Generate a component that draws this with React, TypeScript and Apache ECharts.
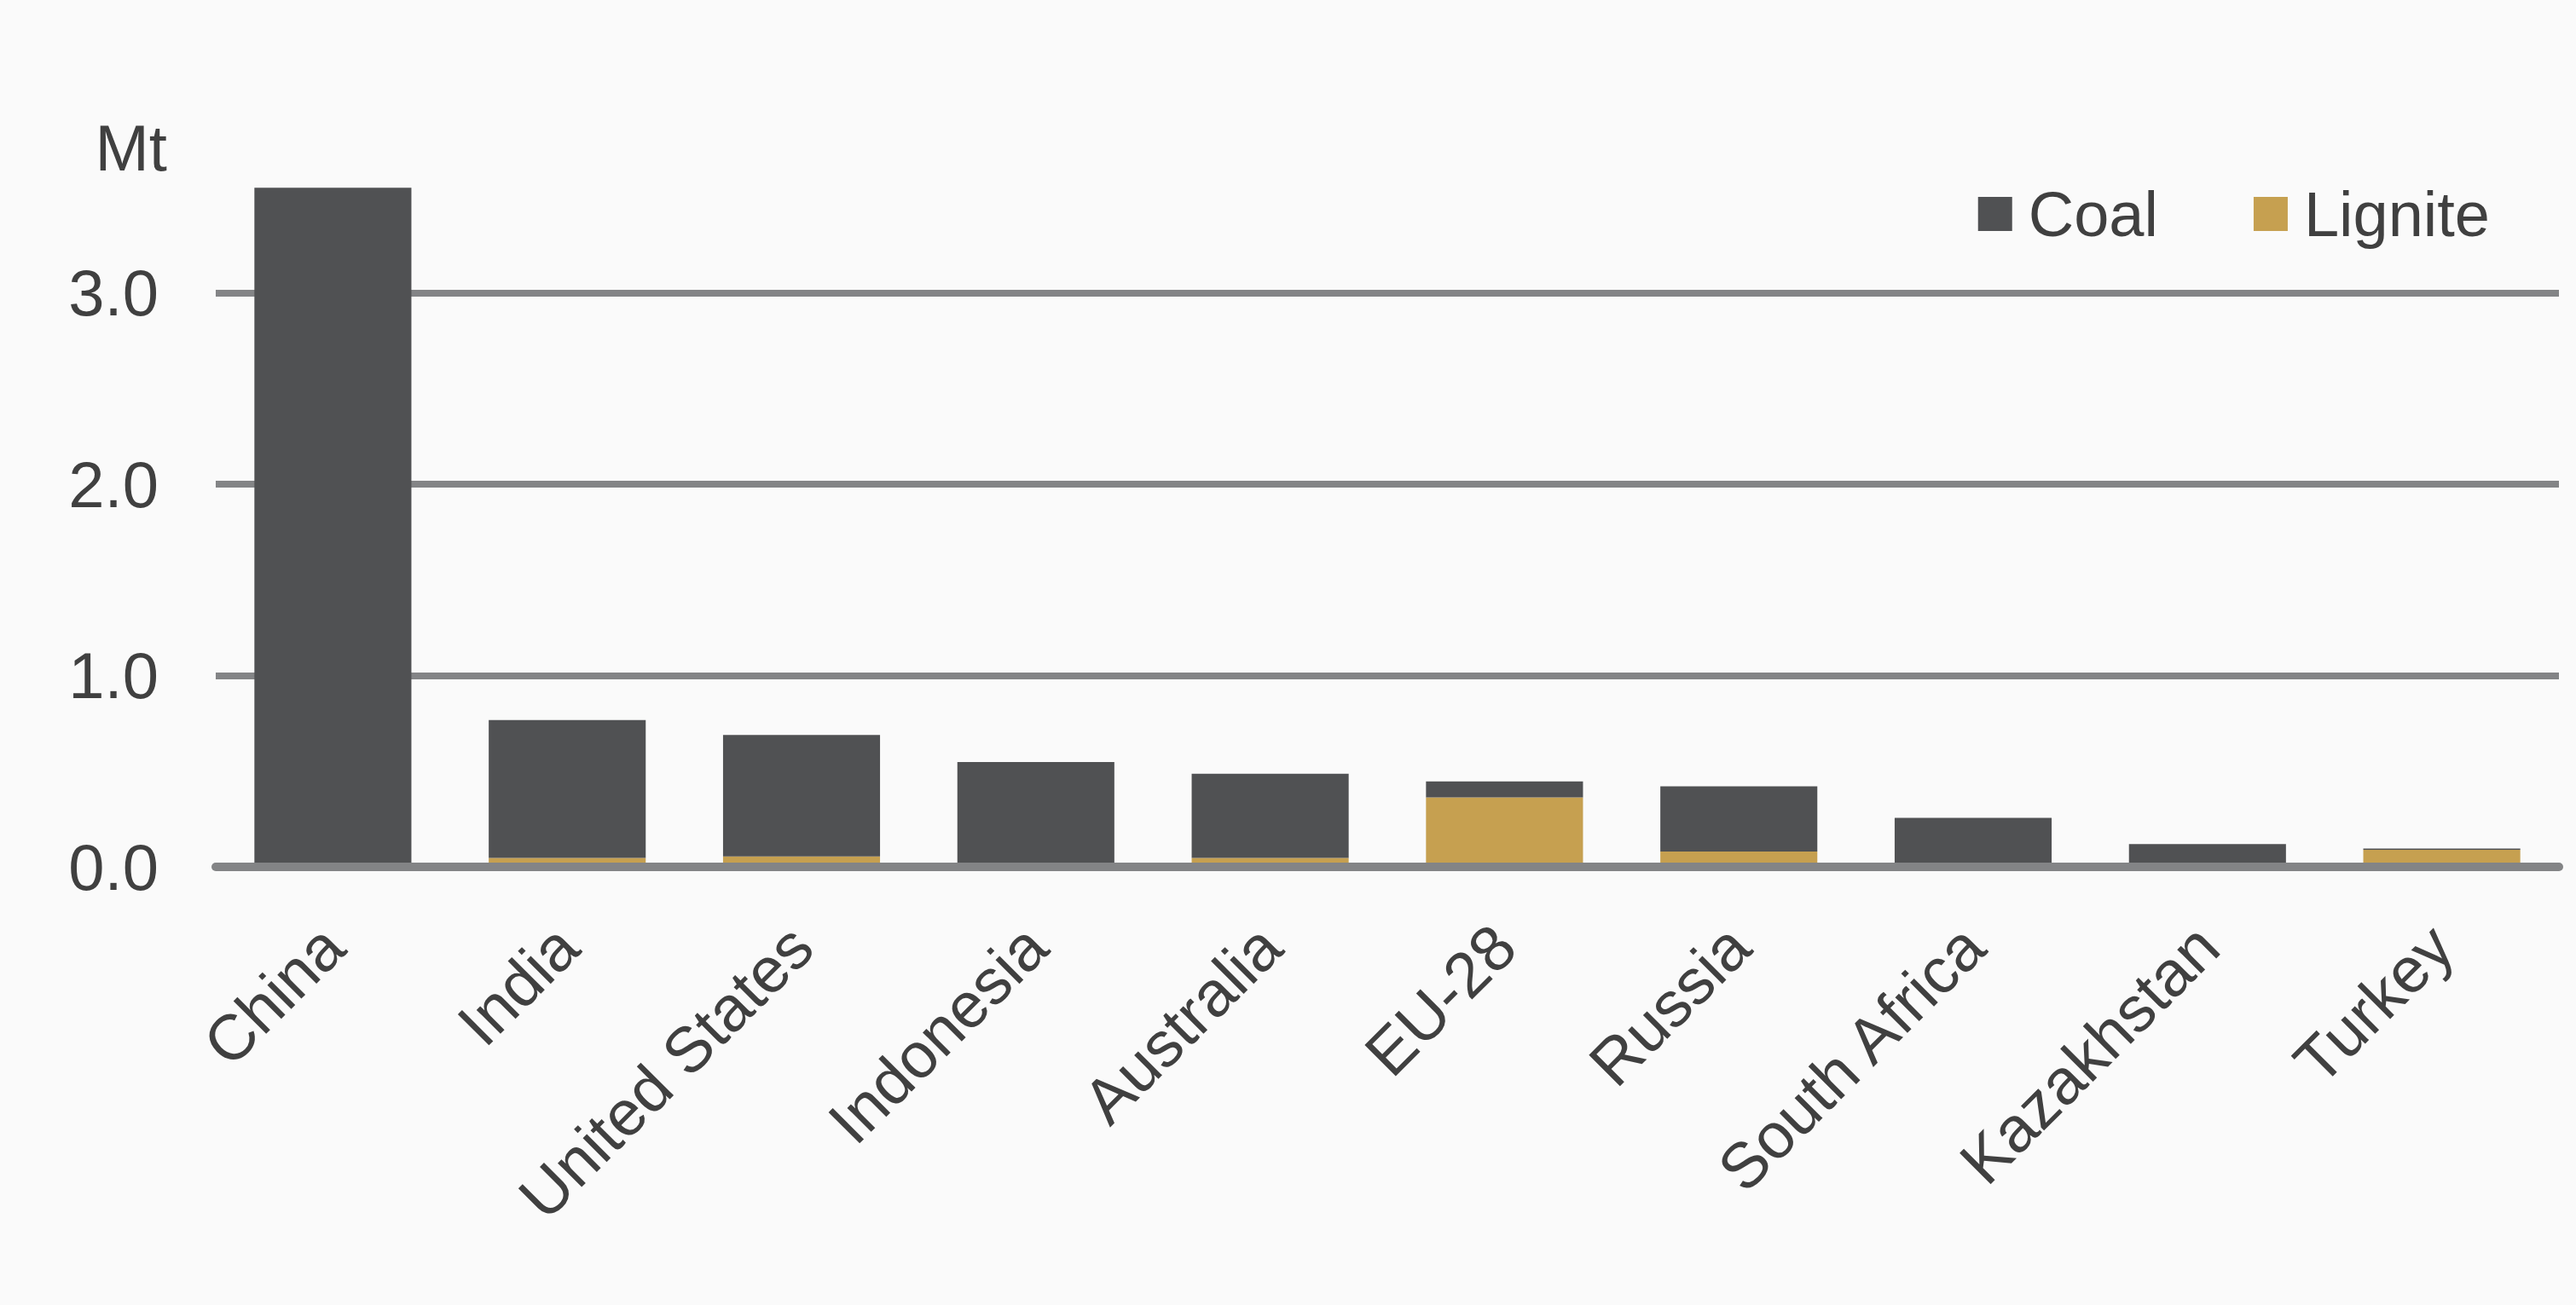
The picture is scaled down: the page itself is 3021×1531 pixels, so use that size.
import React, { useEffect, useRef } from "react";
import * as echarts from "echarts";

const categories = [
  "China",
  "India",
  "United States",
  "Indonesia",
  "Australia",
  "EU-28",
  "Russia",
  "South Africa",
  "Kazakhstan",
  "Turkey",
];
const lignite = [0, 0.047, 0.055, 0, 0.047, 0.363, 0.08, 0, 0, 0.089];
const coal = [3.55, 0.72, 0.635, 0.548, 0.44, 0.084, 0.341, 0.256, 0.119, 0.007];
const yTicks = [0, 1, 2, 3];
const unitLabel = "Mt";

const FONT = "'Liberation Sans', Arial, sans-serif";
const TEXT = "#404040";
const GRID = "#838486";

export default function App() {
  const ref = useRef<HTMLDivElement>(null);
  useEffect(() => {
    if (!ref.current) return;
    const chart = echarts.init(ref.current, undefined, { renderer: "svg" });
    chart.setOption({
      animation: false,
      backgroundColor: "#FAFAFA",
      textStyle: { fontFamily: FONT },
      grid: { left: 253, right: 20, top: 209, bottom: 514, containLabel: false },
      legend: {
        data: ["Coal", "Lignite"],
        right: 101,
        top: 214,
        padding: 0,
        icon: "rect",
        itemWidth: 40,
        itemHeight: 40,
        itemGap: 112,
        textStyle: {
          fontSize: 74,
          color: TEXT,
          fontFamily: FONT,
          padding: [0, 0, 0, 14],
        },
      },
      graphic: [
        {
          type: "text",
          x: 196,
          y: 173,
          style: {
            text: unitLabel,
            fontSize: 76,
            fontFamily: FONT,
            fill: TEXT,
            align: "right",
            verticalAlign: "middle",
          },
        },
      ],
      xAxis: {
        type: "category",
        data: categories,
        z: 10,
        axisLine: { show: true, lineStyle: { color: GRID, width: 10 } },
        axisTick: { show: false },
        axisLabel: {
          interval: 0,
          rotate: 45,
          margin: 81,
          padding: [71, 0, 0, 0],
          fontSize: 75,
          color: TEXT,
          fontFamily: FONT,
          hideOverlap: false,
        },
        splitLine: { show: false },
      },
      yAxis: {
        type: "value",
        min: yTicks[0],
        max: 3.6,
        interval: 1,
        axisLine: { show: false },
        axisTick: { show: false },
        axisLabel: {
          margin: 67,
          fontSize: 76,
          color: TEXT,
          fontFamily: FONT,
          showMaxLabel: false,
          formatter: (v: number) => (yTicks.includes(v) ? v.toFixed(1) : ""),
        },
        splitLine: {
          show: true,
          showMaxLine: false,
          lineStyle: { color: GRID, width: 8 },
        },
      },
      series: [
        {
          name: "Lignite",
          type: "bar",
          stack: "total",
          data: lignite,
          barWidth: "67%",
          itemStyle: { color: "#C6A050" },
        },
        {
          name: "Coal",
          type: "bar",
          stack: "total",
          data: coal,
          barWidth: "67%",
          itemStyle: { color: "#505153" },
        },
      ],
    });
    return () => chart.dispose();
  }, []);
  return (
    <div
      ref={ref}
      style={{ position: "fixed", left: 0, top: 0, width: 3021, height: 1531 }}
    />
  );
}
